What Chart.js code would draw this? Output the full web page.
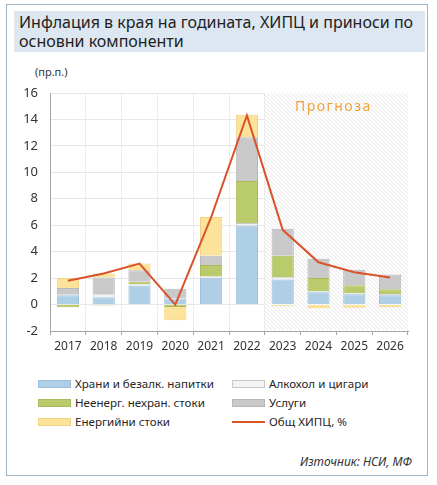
<!DOCTYPE html>
<html>
<head>
<meta charset="utf-8">
<script src="https://cdn.jsdelivr.net/npm/chart.js@4.4.1/dist/chart.umd.min.js"></script>
<style>
  html, body { margin: 0; padding: 0; background: #fff; }
  body { width: 437px; height: 485px; position: relative; overflow: hidden; font-family: "Noto Sans", "Open Sans", sans-serif; color: #262626; }
  .frame { position: absolute; left: 6px; top: 4px; width: 422px; height: 472px; border: 1.5px solid #9db6cc; box-sizing: border-box; }
  .title { position: absolute; left: 14px; top: 11px; width: 411px; height: 41px; background: #dce7f1; font-size: 16px; line-height: 19px; padding: 2px 0 0 5px; box-sizing: border-box; color: #222; }
  .unit { position: absolute; left: 35px; top: 64px; font-size: 11px; color: #333; }
  #chart { position: absolute; left: 0; top: 60px; }
  .legend { position: absolute; left: 38px; top: 376px; width: 380px; font-size: 11.6px; }
  .legend .item { position: absolute; display: flex; align-items: center; white-space: nowrap; }
  .legend .box { width: 33px; height: 8px; margin-right: 4px; box-sizing: border-box; border: 1px solid; }
  .legend .line { width: 33px; height: 2px; margin-right: 4px; }
  .source { position: absolute; right: 25px; top: 453px; font-size: 12px; font-style: italic; color: #333; }
</style>
</head>
<body>
<div class="frame"></div>
<div class="title">Инфлация в края на годината, ХИПЦ и приноси по основни компоненти</div>
<div class="unit">(пр.п.)</div>
<canvas id="chart" width="437" height="300"></canvas>
<div class="legend" id="legend"></div>
<div class="source">Източник: НСИ, МФ</div>
<script>
// Години и приноси (пр.п.)
const years = ["2017", "2018", "2019", "2020", "2021", "2022", "2023", "2024", "2025", "2026"];
const food = [0.7, 0.55, 1.44, 0.45, 2.05, 5.97, 1.89, 0.93, 0.78, 0.7];
const alcohol = [0.1, 0.22, 0.1, 0.05, 0.08, 0.2, 0.18, 0.1, 0.1, 0.1];
const nonEnergy = [-0.2, -0.08, 0.18, -0.18, 0.87, 3.18, 1.63, 0.97, 0.58, 0.36];
const services = [0.46, 1.28, 0.88, 0.7, 0.7, 3.3, 2.04, 1.47, 1.18, 1.11];
const energy = [0.74, 0.3, 0.5, -1.0, 2.92, 1.71, -0.12, -0.28, -0.25, -0.2];
const hicp = [1.8, 2.35, 3.1, 0.0, 6.6, 14.3, 5.65, 3.2, 2.45, 2.05];
const yTicks = [-2, 0, 2, 4, 6, 8, 10, 12, 14, 16];
const forecastFrom = "2023";
const forecastLabel = "Прогноза";

// Фон с щриховка за прогнозния период
const forecastPlugin = {
  id: "forecast",
  beforeDatasetsDraw(chart) {
    const { ctx, chartArea, scales } = chart;
    const x = scales.x;
    const idx = years.indexOf(forecastFrom);
    const half = (x.getPixelForValue(1) - x.getPixelForValue(0)) / 2;
    const left = x.getPixelForValue(idx) - half;
    const right = chartArea.right;
    ctx.save();
    ctx.beginPath();
    ctx.rect(left, chartArea.top, right - left, chartArea.bottom - chartArea.top - 1);
    ctx.clip();
    ctx.fillStyle = "#ffffff";
    ctx.fillRect(left, chartArea.top, right - left, chartArea.bottom - chartArea.top);
    ctx.strokeStyle = "#dadada";
    ctx.lineWidth = 0.7;
    const h = chartArea.bottom - chartArea.top;
    for (let s = left - h; s < right; s += 4) {
      ctx.beginPath();
      ctx.moveTo(s, chartArea.top);
      ctx.lineTo(s + h, chartArea.bottom);
      ctx.stroke();
    }
    ctx.restore();

    ctx.save();
    ctx.fillStyle = "#f0a23c";
    ctx.font = "14px 'Noto Sans'";
    ctx.letterSpacing = "1.5px";
    ctx.textAlign = "center";
    ctx.textBaseline = "middle";
    ctx.fillText(forecastLabel, (left + right) / 2 - 3, scales.y.getPixelForValue(15) + 1);
    ctx.restore();
  }
};

const ctx = document.getElementById("chart").getContext("2d");
const chart = new Chart(ctx, {
  type: "bar",
  data: {
    labels: years,
    datasets: [
      { label: "Храни и безалк. напитки", data: food, backgroundColor: "#aecfe6", borderColor: "#9cc0da", borderWidth: 1, stack: "s", order: 1 },
      { label: "Алкохол и цигари", data: alcohol, backgroundColor: "#f4f4f4", borderColor: "#c9c9c9", borderWidth: 1, stack: "s", order: 1 },
      { label: "Неенерг. нехран. стоки", data: nonEnergy, backgroundColor: "#bacb6b", borderColor: "#a9ba5c", borderWidth: 1, stack: "s", order: 1 },
      { label: "Услуги", data: services, backgroundColor: "#c9c9c9", borderColor: "#b8b8b8", borderWidth: 1, stack: "s", order: 1 },
      { label: "Енергийни стоки", data: energy, backgroundColor: "#fde39a", borderColor: "#efd283", borderWidth: 1, stack: "s", order: 1 },
      { label: "Общ ХИПЦ, %", data: hicp, type: "line", stack: "line", order: 0, borderColor: "#d9532b", backgroundColor: "#d9532b", borderWidth: 2, pointRadius: 0, tension: 0 }
    ]
  },
  options: {
    responsive: false,
    animation: false,
    layout: { padding: { top: 33, right: 29, left: 0, bottom: 0 } },
    datasets: { bar: { categoryPercentage: 1, barPercentage: 0.62 } },
    plugins: { legend: { display: false }, tooltip: { enabled: false } },
    scales: {
      x: {
        stacked: true,
        grid: { color: "#ececec", tickColor: "#a6a6a6", tickLength: 4, offset: true },
        border: { color: "#a6a6a6" },
        ticks: { color: "#333", font: { size: 12, family: "'Noto Sans'" }, padding: 4, maxRotation: 0 },
        afterFit(scale) { scale.height = 29; }
      },
      y: {
        stacked: true,
        min: -2,
        max: 16,
        afterBuildTicks(scale) { scale.ticks = yTicks.map(v => ({ value: v })); },
        grid: { color: "#e6e6e6", drawTicks: false },
        border: { color: "#a6a6a6" },
        ticks: { color: "#333", font: { size: 13, family: "'Noto Sans'" }, padding: 12 },
        afterFit(scale) { scale.width = 50; }
      }
    }
  },
  plugins: [forecastPlugin]
});

// Легенда в две колони
const legend = document.getElementById("legend");
const order = [0, 1, 2, 3, 4, 5];
order.forEach((di, i) => {
  const ds = chart.data.datasets[di];
  const item = document.createElement("div");
  item.className = "item";
  item.style.left = (i % 2 === 0 ? 0 : 194) + "px";
  item.style.top = Math.floor(i / 2) * 19 + "px";
  const mark = document.createElement("span");
  if (ds.type === "line") {
    mark.className = "line";
    mark.style.background = ds.borderColor;
  } else {
    mark.className = "box";
    mark.style.background = ds.backgroundColor;
    mark.style.borderColor = ds.borderColor;
  }
  item.appendChild(mark);
  item.appendChild(document.createTextNode(ds.label));
  legend.appendChild(item);
});
</script>
</body>
</html>
